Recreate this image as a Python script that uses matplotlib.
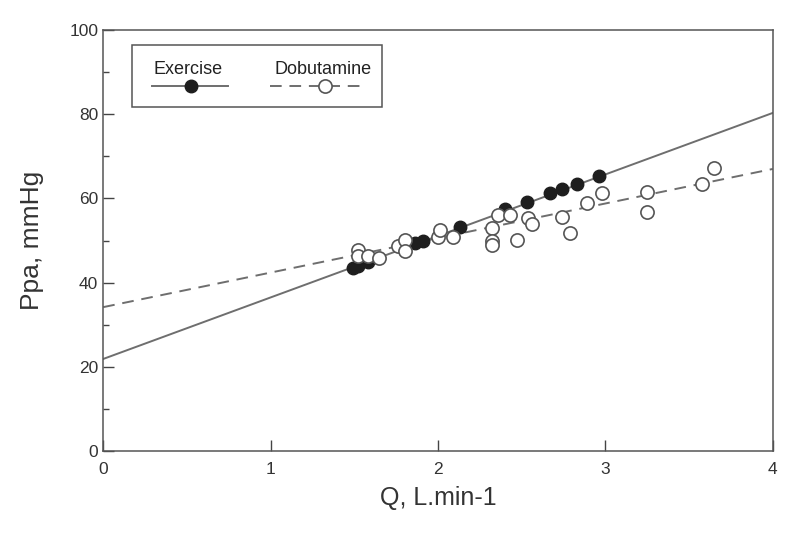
import matplotlib.pyplot as plt
from matplotlib.lines import Line2D
from matplotlib.patches import Rectangle
from matplotlib.ticker import MultipleLocator
import numpy as np

plt.rcParams['font.family'] = ['Liberation Sans', 'DejaVu Sans']

# Exercise (filled circles)
ex_q = [1.49, 1.52, 1.58, 1.86, 1.91, 2.13, 2.40, 2.53, 2.67, 2.74, 2.83, 2.96]
ex_p = [43.5, 43.9, 44.9, 49.4, 49.9, 53.2, 57.5, 59.1, 61.3, 62.2, 63.4, 65.3]

# Dobutamine (open circles)
dob_q = [1.52, 1.52, 1.58, 1.65, 1.76, 1.80, 1.80, 2.00, 2.01, 2.09, 2.32, 2.32,
         2.32, 2.36, 2.43, 2.47, 2.54, 2.56, 2.74, 2.79, 2.89, 2.98, 3.25, 3.25,
         3.58, 3.65]
dob_p = [47.7, 46.3, 46.3, 45.8, 48.7, 50.1, 47.5, 50.8, 52.5, 50.8, 53.0, 49.9,
         48.9, 56.1, 56.1, 50.1, 55.3, 53.9, 55.6, 51.8, 58.9, 61.3, 61.5, 56.8,
         63.4, 67.2]

# regression lines: intercept, slope
ex_fit = (21.9, 14.6)
dob_fit = (34.2, 8.2)

fig = plt.figure(figsize=(8, 5.34), dpi=100)
ax = fig.add_axes([0.129, 0.155, 0.837, 0.789])

qq = np.array([0, 4])
line_col = '#6e6e6e'
ax.plot(qq, ex_fit[0] + ex_fit[1] * qq, color=line_col, lw=1.4, zorder=2)
ax.plot(qq, dob_fit[0] + dob_fit[1] * qq, color=line_col, lw=1.4,
        dashes=(6, 4), zorder=2)

ax.plot(ex_q, ex_p, 'o', ms=9, mfc='#1e1e1e', mec='#1e1e1e', zorder=3)
ax.plot(dob_q, dob_p, 'o', ms=9.5, mfc='white', mec='#555555', mew=1.2, zorder=4)

ax.set_xlim(0, 4)
ax.set_ylim(0, 100)
ax.xaxis.set_major_locator(MultipleLocator(1))
ax.yaxis.set_major_locator(MultipleLocator(20))
ax.yaxis.set_minor_locator(MultipleLocator(10))
ax.tick_params(which='both', direction='in', colors='#444444', labelcolor='#333333',
               labelsize=12.5)
ax.tick_params(which='major', length=8, width=1)
ax.tick_params(which='minor', length=4, width=1)
ax.tick_params(axis='x', pad=8)
for s in ax.spines.values():
    s.set_color('#555555')
    s.set_linewidth(1.1)

ax.set_xlabel('Q, L.min-1', fontsize=18, color='#333333', labelpad=6)
ax.set_ylabel('Ppa, mmHg', fontsize=19, color='#333333', labelpad=18)

# legend drawn by hand: label above each handle
ax.add_patch(Rectangle((0.043, 0.817), 0.373, 0.147, transform=ax.transAxes,
                       fill=False, ec='#555555', lw=1.1, zorder=5))
ax.text(0.127, 0.905, 'Exercise', transform=ax.transAxes, ha='center', va='center',
        fontsize=13, color='#222222', zorder=6)
ax.add_line(Line2D([0.073, 0.187], [0.867, 0.867], transform=ax.transAxes,
                   color=line_col, lw=1.4, zorder=6))
ax.add_line(Line2D([0.131], [0.867], transform=ax.transAxes, marker='o', ms=9,
                   mfc='#1e1e1e', mec='#1e1e1e', zorder=7))
ax.text(0.328, 0.905, 'Dobutamine', transform=ax.transAxes, ha='center', va='center',
        fontsize=13, color='#222222', zorder=6)
ax.add_line(Line2D([0.249, 0.387], [0.867, 0.867], transform=ax.transAxes,
                   color=line_col, lw=1.4, dashes=(6, 4), zorder=6))
ax.add_line(Line2D([0.331], [0.867], transform=ax.transAxes, marker='o', ms=9.5,
                   mfc='white', mec='#555555', mew=1.2, zorder=7))

fig.savefig('out.png', dpi=100)
